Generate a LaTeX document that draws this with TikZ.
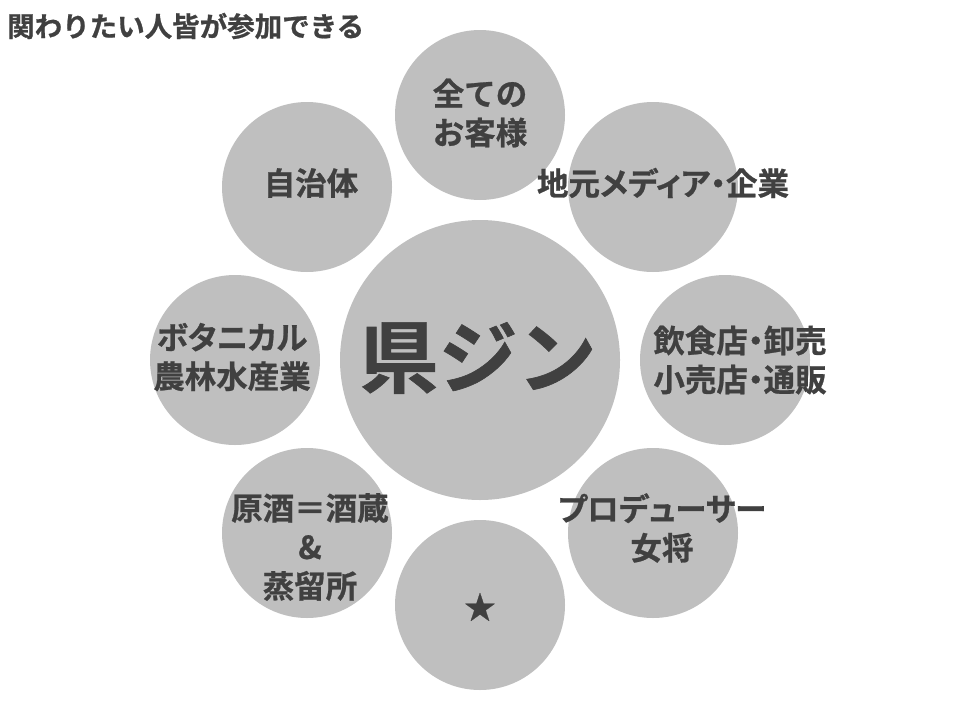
\documentclass[tikz,border=0pt]{standalone}
\usepackage{fontspec}
\setmainfont{Noto Sans CJK JP}[UprightFont={* Bold}, UprightFeatures={FakeBold=0.8}]
\newcommand{\pdot}{{\addfontfeature{RawFeature=+palt}・}}
\newcommand{\prop}[1]{{\addfontfeature{RawFeature=+palt}#1}}
\definecolor{circ}{RGB}{191,191,191}
\definecolor{ink}{RGB}{64,64,64}
\tikzset{
  bigc/.style={circle, fill=circ, minimum size=280pt, inner sep=0pt},
  smallc/.style={circle, fill=circ, minimum size=170pt, inner sep=0pt},
  lab/.style={text=ink, align=center, inner sep=0pt, font=\fontsize{31.5}{39}\selectfont},
  title/.style={text=ink, anchor=west, inner sep=0pt, font=\fontsize{27.5}{30}\selectfont},
}
\begin{document}
\begin{tikzpicture}[x=1pt,y=-1pt]
\useasboundingbox (0,0) rectangle (960,720);
\node[title] (t) at (7,26) {関わりたい人皆が参加できる};
\node[bigc] (c) at (480,360) {};
\node[smallc] (n) at (480,115) {};
\node[smallc] (ne) at (653,187) {};
\node[smallc] (e) at (725,360) {};
\node[smallc] (se) at (653,533) {};
\node[smallc] (s) at (480,605) {};
\node[smallc] (sw) at (307,533) {};
\node[smallc] (w) at (235,360) {};
\node[smallc] (nw) at (307,187) {};
\node[text=ink, inner sep=0pt, font=\fontsize{79}{80}\selectfont] (ct) at (478,358) {県ジン};
\node[lab] (nt) at (480,113) {全ての\\お客様};
\node[lab] (net) at (663,183) {地元\prop{メディア・}企業};
\node[lab] (et) at (740,360) {飲食店\pdot 卸売\\小売店\pdot 通販};
\node[lab] (set) at (662,528) {\prop{プロデューサー}\\女将};
\node[lab] (st) at (480,607) {★};
\node[lab] (swt) at (310,547) {原酒＝酒蔵\\\&\\蒸留所};
\node[lab] (wt) at (232,357) {\prop{ボタニカル}\\農林水産業};
\node[lab] (nwt) at (311,183) {自治体};
\end{tikzpicture}
\end{document}
